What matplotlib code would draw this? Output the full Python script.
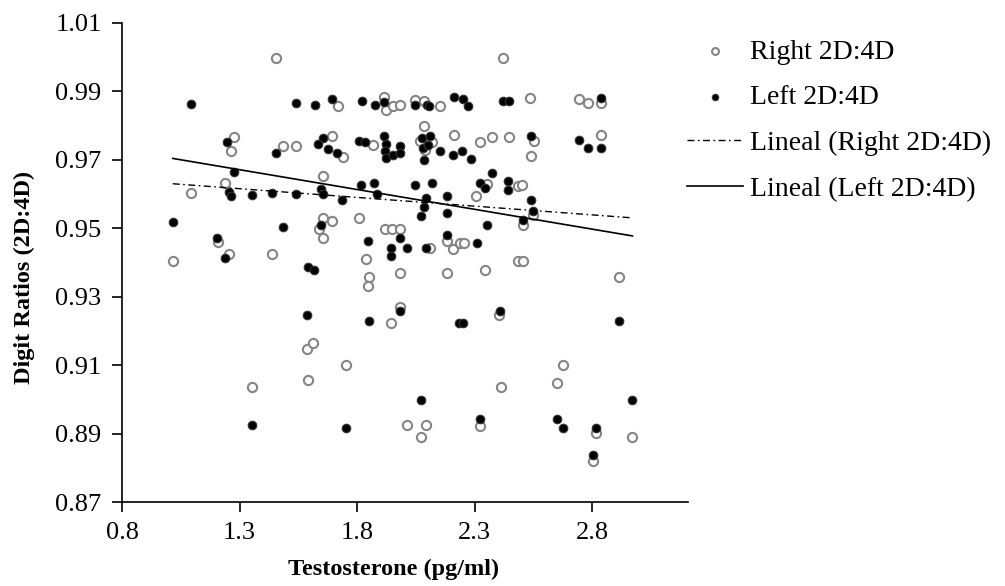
import numpy as np
import matplotlib
matplotlib.use("Agg")
from matplotlib import pyplot as plt

plt.rcParams['font.family'] = ['Liberation Serif', 'DejaVu Serif']

# Right hand 2D:4D (open circles)
right_t = [1.455, 1.278, 1.263, 1.485, 1.539, 2.423, 1.718, 1.915, 1.923, 1.954,
           1.983, 2.047, 2.085, 2.153, 1.692, 1.739, 1.657, 1.869, 2.085, 2.068,
           2.118, 2.089, 2.213, 2.323, 2.376, 2.447, 2.536, 2.745, 2.784, 2.838,
           2.554, 2.539, 2.838, 1.238, 1.092, 1.210, 1.257, 1.437, 1.016, 2.305,
           2.354, 2.486, 1.654, 1.692, 1.638, 1.654, 1.809, 1.919, 1.948, 1.983,
           2.111, 2.184, 2.207, 2.238, 2.255, 1.838, 1.852, 1.846, 1.983, 2.184,
           2.345, 2.486, 1.983, 1.945, 2.406, 2.501, 2.550, 2.505, 2.505, 2.915,
           1.586, 1.614, 1.593, 1.354, 1.753, 2.014, 2.092, 2.071, 2.323, 2.413,
           2.678, 2.652, 2.816, 2.806, 2.972]
right_r = [0.9999, 0.9768, 0.9725, 0.9741, 0.9741, 0.9999, 0.9856, 0.9885, 0.9846, 0.9856,
           0.9861, 0.9876, 0.9873, 0.9856, 0.9769, 0.9708, 0.9654, 0.9744, 0.9800, 0.9756,
           0.9751, 0.9730, 0.9773, 0.9751, 0.9767, 0.9767, 0.9882, 0.9878, 0.9866, 0.9866,
           0.9756, 0.9710, 0.9773, 0.9633, 0.9604, 0.9460, 0.9426, 0.9426, 0.9404, 0.9594,
           0.9628, 0.9623, 0.9531, 0.9521, 0.9497, 0.9472, 0.9531, 0.9499, 0.9499, 0.9499,
           0.9441, 0.9462, 0.9440, 0.9458, 0.9458, 0.9411, 0.9359, 0.9331, 0.9368, 0.9368,
           0.9378, 0.9404, 0.9270, 0.9222, 0.9247, 0.9626, 0.9540, 0.9511, 0.9404, 0.9357,
           0.9147, 0.9166, 0.9057, 0.9035, 0.9100, 0.8925, 0.8925, 0.8889, 0.8923, 0.9035,
           0.9100, 0.9047, 0.8902, 0.8821, 0.8889]

# Left hand 2D:4D (filled circles)
left_t = [1.092, 1.539, 1.621, 1.246, 1.454, 1.278, 1.692, 1.820, 1.877, 1.916,
          2.047, 2.097, 2.108, 2.213, 2.252, 2.271, 2.423, 2.447, 1.654, 1.635,
          1.678, 1.716, 1.810, 1.834, 1.915, 1.923, 1.919, 1.923, 1.954, 1.983,
          1.983, 2.075, 2.111, 2.080, 2.103, 2.085, 2.153, 2.207, 2.246, 2.285,
          2.376, 2.539, 2.745, 2.784, 2.838, 2.838, 1.257, 1.264, 1.354, 1.440,
          1.539, 1.016, 1.206, 1.238, 1.484, 1.593, 1.617, 1.586, 1.646, 1.654,
          1.737, 1.816, 1.872, 1.886, 2.047, 2.118, 2.092, 2.085, 2.071, 2.184,
          2.184, 2.323, 2.345, 2.444, 2.444, 1.646, 1.846, 1.983, 1.943, 1.943,
          2.014, 2.092, 2.184, 2.309, 2.354, 1.983, 1.852, 2.235, 2.252, 2.409,
          2.539, 2.550, 2.505, 2.915, 1.354, 1.753, 2.071, 2.323, 2.652, 2.678,
          2.816, 2.806, 2.972]
left_r = [0.9862, 0.9867, 0.9861, 0.9752, 0.9720, 0.9664, 0.9878, 0.9873, 0.9861, 0.9868,
          0.9861, 0.9861, 0.9856, 0.9883, 0.9878, 0.9856, 0.9873, 0.9873, 0.9764, 0.9747,
          0.9732, 0.9720, 0.9754, 0.9751, 0.9771, 0.9746, 0.9725, 0.9704, 0.9715, 0.9741,
          0.9720, 0.9764, 0.9771, 0.9736, 0.9744, 0.9699, 0.9725, 0.9715, 0.9725, 0.9703,
          0.9662, 0.9771, 0.9757, 0.9736, 0.9736, 0.9882, 0.9605, 0.9594, 0.9596, 0.9604,
          0.9599, 0.9519, 0.9472, 0.9414, 0.9504, 0.9388, 0.9378, 0.9247, 0.9615, 0.9599,
          0.9582, 0.9626, 0.9631, 0.9601, 0.9626, 0.9631, 0.9589, 0.9563, 0.9535, 0.9594,
          0.9545, 0.9631, 0.9618, 0.9637, 0.9613, 0.9509, 0.9464, 0.9472, 0.9441, 0.9419,
          0.9441, 0.9441, 0.9479, 0.9458, 0.9509, 0.9257, 0.9229, 0.9222, 0.9222, 0.9258,
          0.9584, 0.9550, 0.9524, 0.9229, 0.8925, 0.8915, 0.8999, 0.8943, 0.8943, 0.8915,
          0.8915, 0.8838, 0.8999]

# linear trend (slope, intercept)
trend_right = (-0.0051, 0.9682)
trend_left = (-0.01158, 0.98218)

xticks = [0.8, 1.3, 1.8, 2.3, 2.8]
yticks = [0.87, 0.89, 0.91, 0.93, 0.95, 0.97, 0.99, 1.01]

fig = plt.figure(figsize=(10.05, 5.86), dpi=100)
ax = fig.add_axes([0.1214, 0.1433, 0.5632, 0.8175])

ax.scatter(right_t, right_r, s=44, facecolors='white', edgecolors='#858585',
           linewidths=1.5, label='Right 2D:4D', zorder=3)
ax.scatter(left_t, left_r, s=38, facecolors='black', edgecolors='#333333',
           linewidths=0.8, label='Left 2D:4D', zorder=4)

xr = np.array([min(right_t), max(right_t)])
ax.plot(xr, trend_right[0] * xr + trend_right[1], color='black', lw=1,
        dashes=(5, 2.5, 1.2, 2.5), label='Lineal (Right 2D:4D)', zorder=5)
xl = np.array([min(left_t), max(left_t)])
ax.plot(xl, trend_left[0] * xl + trend_left[1], color='black', lw=1.2,
        label='Lineal (Left 2D:4D)', zorder=5)

ax.set_xlim(0.8, 3.2085)
ax.set_ylim(0.87, 1.01)
ax.set_xticks(xticks)
ax.set_xticklabels([f'{v:.1f}' for v in xticks])
ax.set_yticks(yticks)
ax.set_yticklabels([f'{v:.2f}' for v in yticks])
for side in ['top', 'right']:
    ax.spines[side].set_visible(False)
for side in ['left', 'bottom']:
    ax.spines[side].set_linewidth(1.2)
ax.tick_params(direction='out', length=7.2, width=1.2, labelsize=19, pad=7.5)
ax.set_xlabel('Testosterone (pg/ml)', fontsize=17.5, fontweight='bold')
ax.set_ylabel('Digit Ratios (2D:4D)', fontsize=17.5, fontweight='bold')
ax.xaxis.set_label_coords(0.48, -0.118)
ax.yaxis.set_label_coords(-0.153, 0.468)

fig.legend(loc='upper left', bbox_to_anchor=(0.684, 0.933), frameon=False,
           fontsize=20, handlelength=2.0, handletextpad=0.27, labelspacing=0.73,
           borderpad=0, borderaxespad=0, markerscale=0.75)

plt.savefig('out.png', dpi=100)
